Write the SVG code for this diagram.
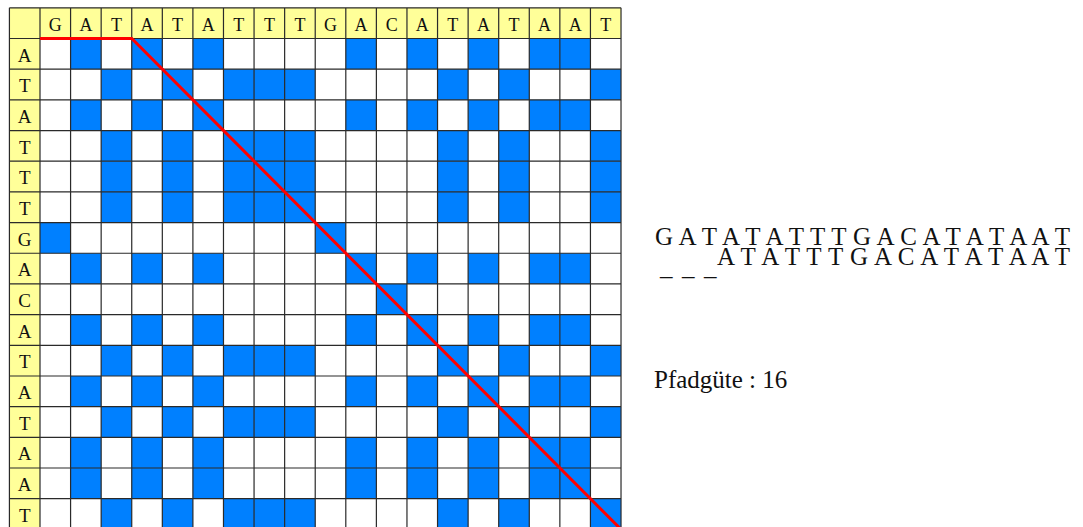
<svg xmlns="http://www.w3.org/2000/svg" xmlns:xlink="http://www.w3.org/1999/xlink" width="1083" height="527" viewBox="0 0 1083 527">
<style>
.hd{font-family:"Liberation Serif","Times New Roman",serif;font-size:18px;fill:#111;text-anchor:middle}
.rl{font-family:"Liberation Serif","Times New Roman",serif;font-size:19px;fill:#111;text-anchor:middle}
.tx{font-family:"Liberation Serif","Times New Roman",serif;font-size:25px;fill:#111}
.b{fill:#0080ff}
</style>
<defs>
<g id="rA" class="b"><rect x="1" width="1" height="1"/><rect x="3" width="1" height="1"/><rect x="5" width="1" height="1"/><rect x="10" width="1" height="1"/><rect x="12" width="1" height="1"/><rect x="14" width="1" height="1"/><rect x="16" width="1" height="1"/><rect x="17" width="1" height="1"/></g>
<g id="rT" class="b"><rect x="2" width="1" height="1"/><rect x="4" width="1" height="1"/><rect x="6" width="1" height="1"/><rect x="7" width="1" height="1"/><rect x="8" width="1" height="1"/><rect x="13" width="1" height="1"/><rect x="15" width="1" height="1"/><rect x="18" width="1" height="1"/></g>
<g id="rG" class="b"><rect x="0" width="1" height="1"/><rect x="9" width="1" height="1"/></g>
<g id="rC" class="b"><rect x="11" width="1" height="1"/></g>
</defs>
<rect width="1083" height="527" fill="#fff"/>
<g id="matrix" transform="translate(40,38.5) scale(30.58,30.68)">
<rect x="-1" y="-1" width="20" height="1" fill="#ffff99"/>
<rect x="-1" y="0" width="1" height="17" fill="#ffff99"/>
<use xlink:href="#rA" y="0"/>
<use xlink:href="#rT" y="1"/>
<use xlink:href="#rA" y="2"/>
<use xlink:href="#rT" y="3"/>
<use xlink:href="#rT" y="4"/>
<use xlink:href="#rT" y="5"/>
<use xlink:href="#rG" y="6"/>
<use xlink:href="#rA" y="7"/>
<use xlink:href="#rC" y="8"/>
<use xlink:href="#rA" y="9"/>
<use xlink:href="#rT" y="10"/>
<use xlink:href="#rA" y="11"/>
<use xlink:href="#rT" y="12"/>
<use xlink:href="#rA" y="13"/>
<use xlink:href="#rA" y="14"/>
<use xlink:href="#rT" y="15"/>
<path fill="none" stroke="#2a2a2a" stroke-width="1.2" vector-effect="non-scaling-stroke" d="M-1 -1V17M0 -1V17M1 -1V17M2 -1V17M3 -1V17M4 -1V17M5 -1V17M6 -1V17M7 -1V17M8 -1V17M9 -1V17M10 -1V17M11 -1V17M12 -1V17M13 -1V17M14 -1V17M15 -1V17M16 -1V17M17 -1V17M18 -1V17M19 -1V17M-1 -1H19M-1 0H19M-1 1H19M-1 2H19M-1 3H19M-1 4H19M-1 5H19M-1 6H19M-1 7H19M-1 8H19M-1 9H19M-1 10H19M-1 11H19M-1 12H19M-1 13H19M-1 14H19M-1 15H19M-1 16H19"/>
<g id="connectors">
<path fill="none" stroke="#ff0000" stroke-width="3" vector-effect="non-scaling-stroke" d="M0 0H3L19 16"/>
</g>
</g>
<g id="header">
<text class="hd" x="55.3" y="31">G</text><text class="hd" x="85.9" y="31">A</text><text class="hd" x="116.5" y="31">T</text><text class="hd" x="147" y="31">A</text><text class="hd" x="177.6" y="31">T</text><text class="hd" x="208.2" y="31">A</text><text class="hd" x="238.8" y="31">T</text><text class="hd" x="269.4" y="31">T</text><text class="hd" x="299.9" y="31">T</text><text class="hd" x="330.5" y="31">G</text><text class="hd" x="361.1" y="31">A</text><text class="hd" x="391.7" y="31">C</text><text class="hd" x="422.3" y="31">A</text><text class="hd" x="452.8" y="31">T</text><text class="hd" x="483.4" y="31">A</text><text class="hd" x="514" y="31">T</text><text class="hd" x="544.6" y="31">A</text><text class="hd" x="575.2" y="31">A</text><text class="hd" x="605.7" y="31">T</text>
</g>
<g id="rowlabels">
<text class="rl" x="24.7" y="61.5">A</text><text class="rl" x="24.7" y="92.2">T</text><text class="rl" x="24.7" y="122.9">A</text><text class="rl" x="24.7" y="153.5">T</text><text class="rl" x="24.7" y="184.2">T</text><text class="rl" x="24.7" y="214.9">T</text><text class="rl" x="24.7" y="245.6">G</text><text class="rl" x="24.7" y="276.3">A</text><text class="rl" x="24.7" y="306.9">C</text><text class="rl" x="24.7" y="337.6">A</text><text class="rl" x="24.7" y="368.3">T</text><text class="rl" x="24.7" y="399">A</text><text class="rl" x="24.7" y="429.6">T</text><text class="rl" x="24.7" y="460.3">A</text><text class="rl" x="24.7" y="491">A</text><text class="rl" x="24.7" y="521.5">T</text>
</g>
<g id="alignment">
<text class="tx" x="655" y="245" textLength="415" lengthAdjust="spacing">G A T A T A T T T G A C A T A T A A T</text>
<text class="tx" y="275"><tspan x="660">_</tspan><tspan x="682">_</tspan><tspan x="704">_</tspan></text>
<text class="tx" x="717" y="265" textLength="353" lengthAdjust="spacing">A T A T T T G A C A T A T A A T</text>
</g>
<g id="score">
<text class="tx" x="654" y="388">Pfadgüte : 16</text>
</g>
</svg>
